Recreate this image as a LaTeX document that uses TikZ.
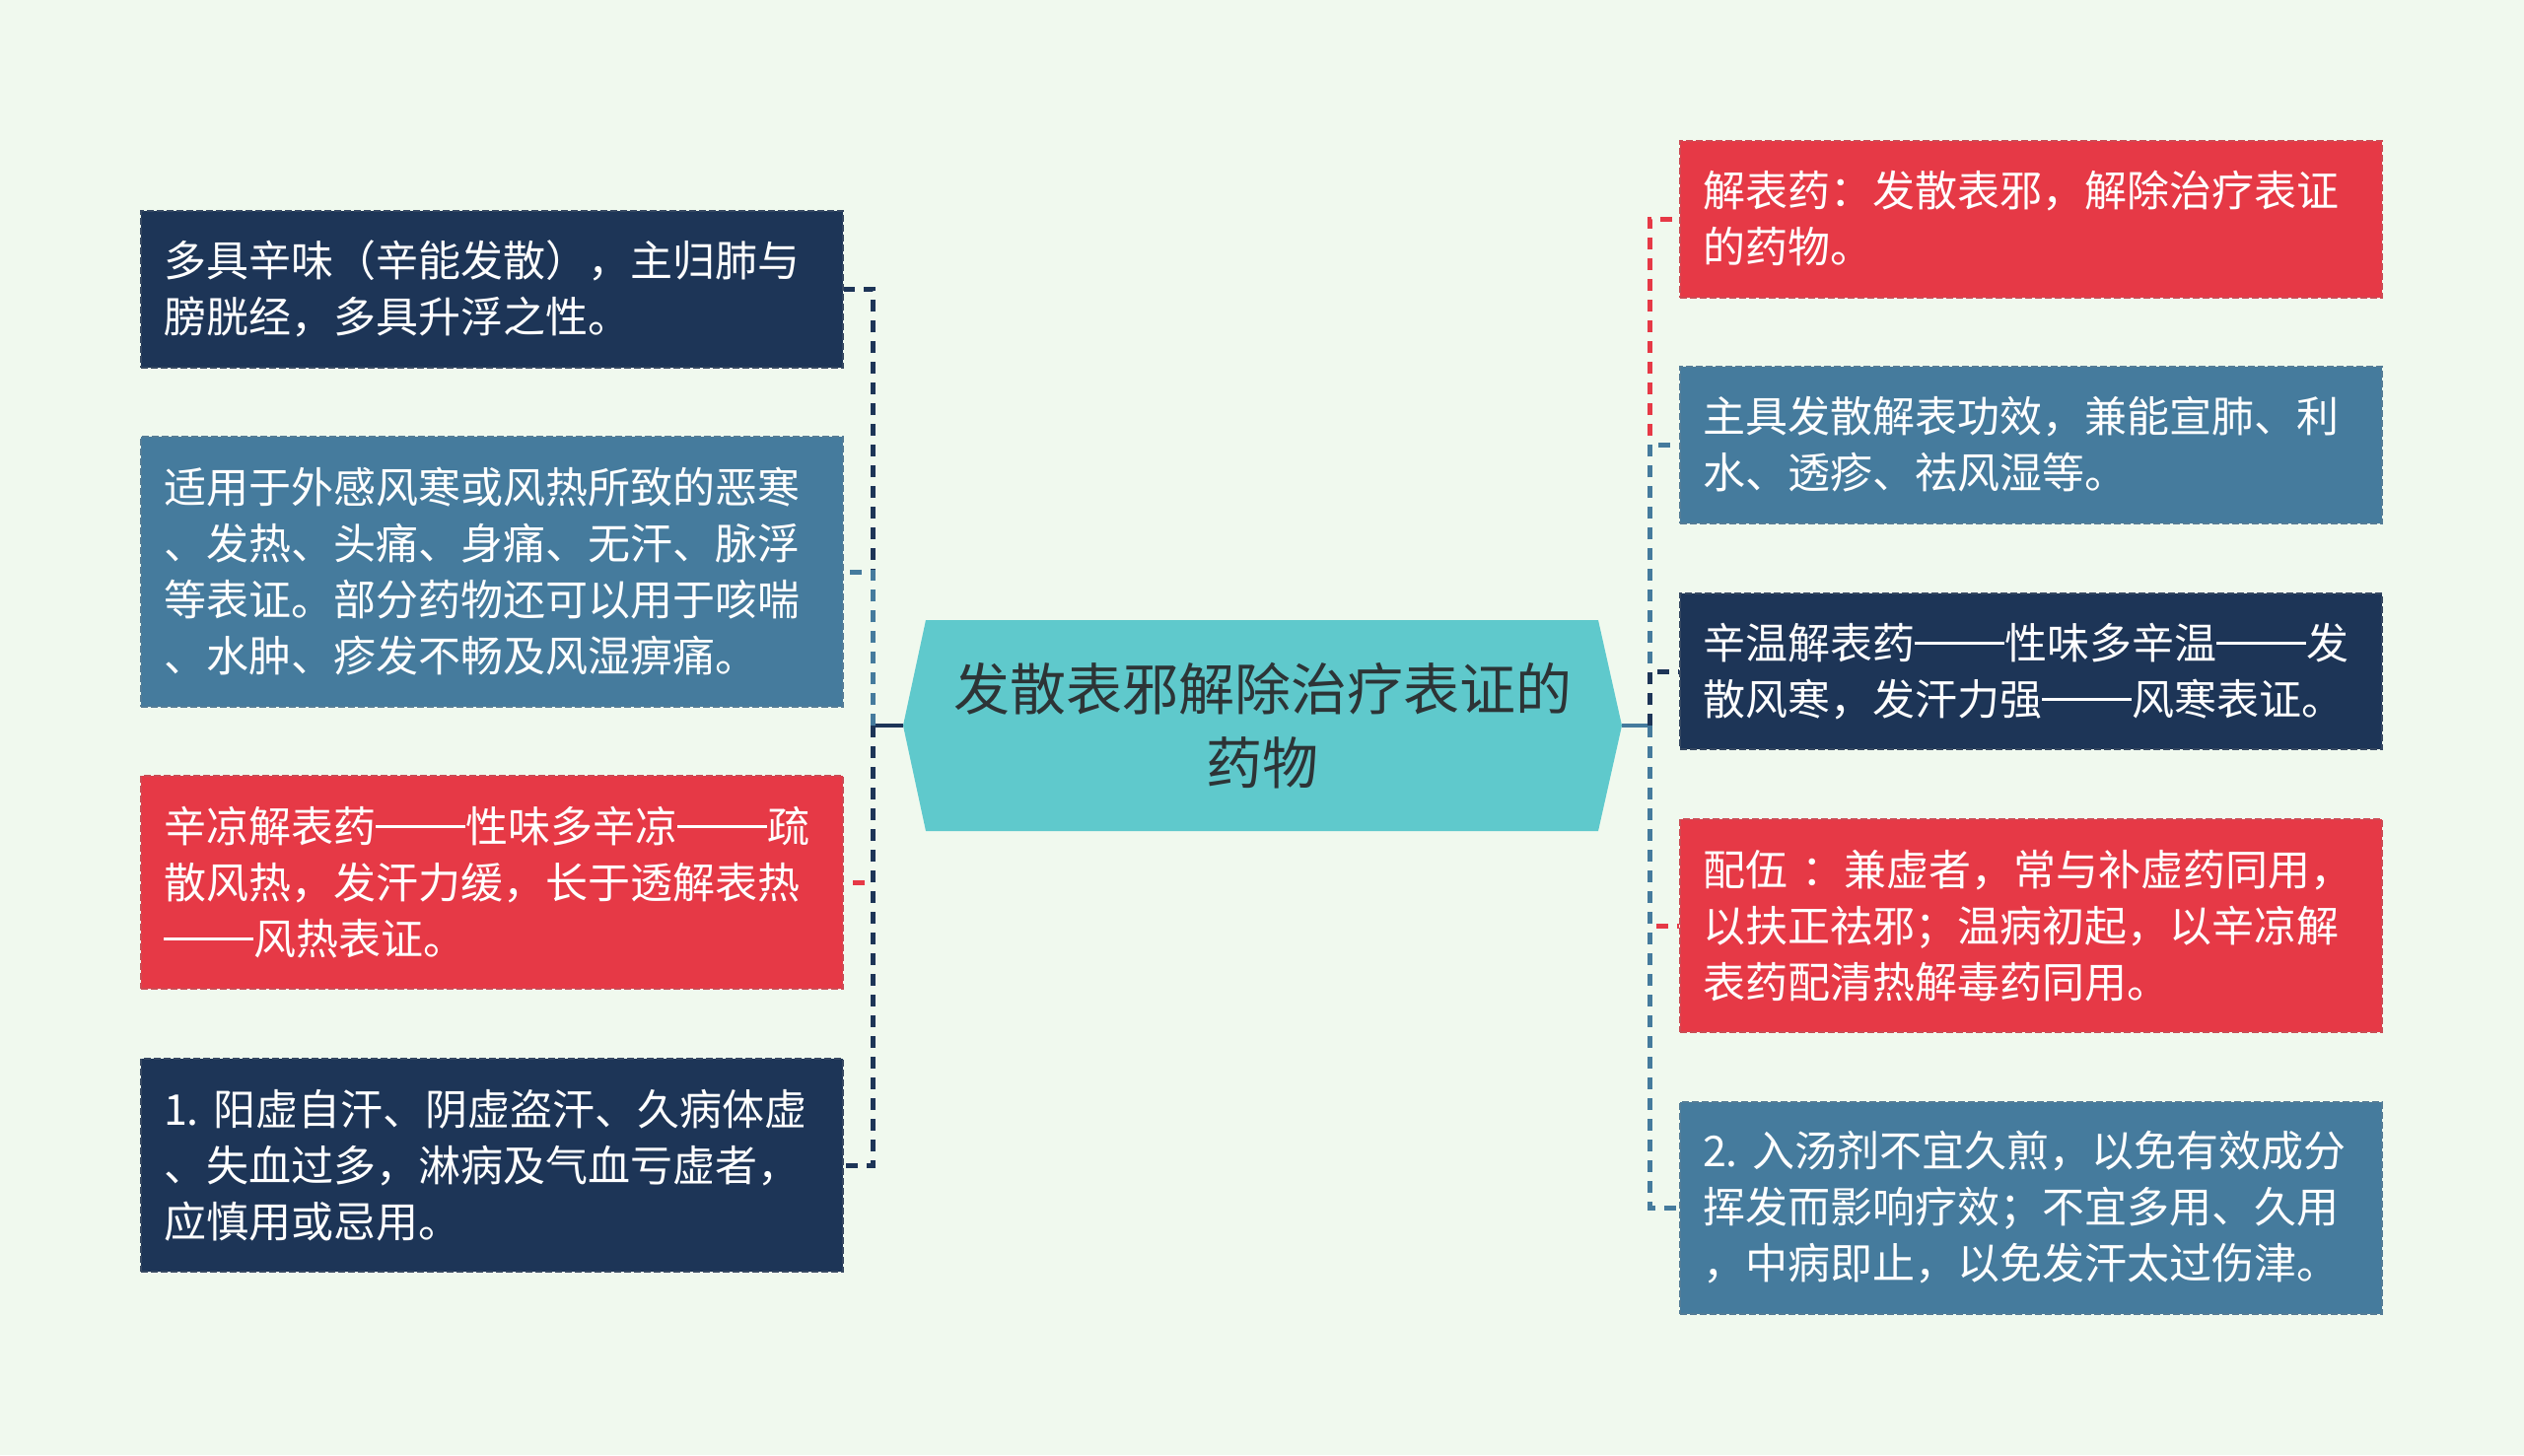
\documentclass[tikz,border=0pt]{standalone}
\usepackage{fontspec}
\usepackage{xcolor}
\setmainfont{Noto Sans CJK SC}
\definecolor{paper}{RGB}{240, 249, 238}
\definecolor{deepnavy}{RGB}{29, 53, 87}
\definecolor{steelblue}{RGB}{69, 123, 157}
\definecolor{alertred}{RGB}{230, 57, 70}
\definecolor{rootteal}{RGB}{95, 201, 204}
\definecolor{inkgray}{RGB}{45, 52, 54}
\newcommand{\longdash}{\rule[0.34em]{2.12em}{0.06em}}

\begin{document}
\begin{tikzpicture}[x=1pt, y=-1pt,
    leaf/.style={rectangle, text=white, align=left, text width=666pt, inner xsep=23pt, inner ysep=0pt,
        minimum width=712pt, line width=2pt, dash pattern=on 7pt off 3pt, font=\fontsize{43}{57}\selectfont},
    link/.style={line width=5pt, dash pattern=on 12pt off 9pt},
    hub/.style={line width=4pt}]
        \fill[paper] (0,0) rectangle (2560,1476);
        \node[rectangle, fill=paper, minimum width=729pt, minimum height=214pt, align=center, text=inkgray,
            font=\fontsize{57}{75}\selectfont,
            path picture={\fill[rootteal] (path picture bounding box.west)
                -- ([xshift=23pt]path picture bounding box.north west) -- ([xshift=-24pt]path picture bounding box.north east)
                -- (path picture bounding box.east)
                -- ([xshift=-24pt]path picture bounding box.south east) -- ([xshift=23pt]path picture bounding box.south west)
                -- cycle;}] (root) at (1280.5,736) {发散表邪解除治疗表证的\\药物};
        % left side
        \foreach \nm/\yy/\hh/\col/\txt in {
            l1/293/159/deepnavy/{多具辛味（辛能发散），主归肺与\\膀胱经，多具升浮之性。},
            l2/580/274/steelblue/{适用于外感风寒或风热所致的恶寒\\、发热、头痛、身痛、无汗、脉浮\\等表证。部分药物还可以用于咳喘\\、水肿、疹发不畅及风湿痹痛。},
            l3/895/216/alertred/{辛凉解表药\longdash 性味多辛凉\longdash 疏\\散风热，发汗力缓，长于透解表热\\\longdash 风热表证。},
            l4/1182/216/deepnavy/{1.~阳虚自汗、阴虚盗汗、久病体虚\\、失血过多，淋病及气血亏虚者，\\应慎用或忌用。}} {
            \node[leaf, fill=\col, draw=\col!75!gray, minimum height=\hh pt] (\nm) at (499,\yy) {\txt};
        }
        % right side
        \foreach \nm/\yy/\hh/\col/\txt in {
            r1/222/159/alertred/{解表药：发散表邪，解除治疗表证\\的药物。},
            r2/451/159/steelblue/{主具发散解表功效，兼能宣肺、利\\水、透疹、祛风湿等。},
            r3/681/158/deepnavy/{辛温解表药\longdash 性味多辛温\longdash 发\\散风寒，发汗力强\longdash 风寒表证。},
            r4/939/216/alertred/{配伍~：兼虚者，常与补虚药同用，\\以扶正祛邪；温病初起，以辛凉解\\表药配清热解毒药同用。},
            r5/1225/215/steelblue/{2.~入汤剂不宜久煎，以免有效成分\\挥发而影响疗效；不宜多用、久用\\，中病即止，以免发汗太过伤津。}} {
            \node[leaf, fill=\col, draw=\col!75!gray, minimum height=\hh pt] (\nm) at (2060,\yy) {\txt};
        }
        \draw[hub, deepnavy] (root.west) -- ++(-30,0) coordinate (lbus);
        \draw[hub, steelblue] (root.east) -- ++(28,0) coordinate (rbus);
        \foreach \nm/\col in {l1/deepnavy, l2/steelblue, l3/alertred, l4/deepnavy} {
            \draw[link, \col] (lbus) |- (\nm.east);
        }
        \foreach \nm/\col in {r1/alertred, r2/steelblue, r3/deepnavy, r4/alertred, r5/steelblue} {
            \draw[link, \col] (rbus) |- (\nm.west);
        }
\end{tikzpicture}
\end{document}
